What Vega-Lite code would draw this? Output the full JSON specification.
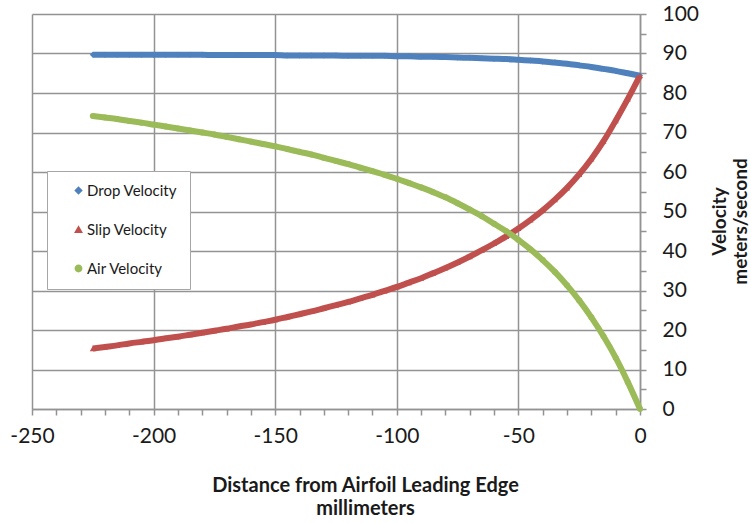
{
  "$schema": "https://vega.github.io/schema/vega-lite/v6.json",
  "width": 608,
  "height": 395,
  "autosize": "none",
  "padding": {"left": 32, "top": 14, "right": 111, "bottom": 114},
  "background": "white",
  "config": {"font": "Lato", "view": {"stroke": null}},
  "data": {
    "values": [
      {"d": -225, "drop": 89.7, "slip": 15.3, "air": 74.2},
      {"d": -220, "drop": 89.7, "slip": 15.7, "air": 73.8},
      {"d": -215, "drop": 89.7, "slip": 16.1, "air": 73.4},
      {"d": -210, "drop": 89.7, "slip": 16.6, "air": 72.9},
      {"d": -205, "drop": 89.7, "slip": 17.0, "air": 72.5},
      {"d": -200, "drop": 89.7, "slip": 17.4, "air": 72.0},
      {"d": -195, "drop": 89.7, "slip": 17.9, "air": 71.5},
      {"d": -190, "drop": 89.7, "slip": 18.3, "air": 71.0},
      {"d": -185, "drop": 89.7, "slip": 18.8, "air": 70.5},
      {"d": -180, "drop": 89.7, "slip": 19.3, "air": 70.0},
      {"d": -175, "drop": 89.6, "slip": 19.8, "air": 69.5},
      {"d": -170, "drop": 89.6, "slip": 20.3, "air": 68.9},
      {"d": -165, "drop": 89.6, "slip": 20.9, "air": 68.3},
      {"d": -160, "drop": 89.6, "slip": 21.4, "air": 67.7},
      {"d": -155, "drop": 89.6, "slip": 22.0, "air": 67.1},
      {"d": -150, "drop": 89.6, "slip": 22.6, "air": 66.5},
      {"d": -145, "drop": 89.5, "slip": 23.3, "air": 65.8},
      {"d": -140, "drop": 89.5, "slip": 24.0, "air": 65.1},
      {"d": -135, "drop": 89.5, "slip": 24.7, "air": 64.4},
      {"d": -130, "drop": 89.5, "slip": 25.5, "air": 63.6},
      {"d": -125, "drop": 89.5, "slip": 26.3, "air": 62.8},
      {"d": -120, "drop": 89.4, "slip": 27.1, "air": 62.0},
      {"d": -115, "drop": 89.4, "slip": 28.0, "air": 61.1},
      {"d": -110, "drop": 89.4, "slip": 28.9, "air": 60.2},
      {"d": -105, "drop": 89.4, "slip": 29.9, "air": 59.3},
      {"d": -100, "drop": 89.3, "slip": 30.9, "air": 58.3},
      {"d": -95, "drop": 89.3, "slip": 32.0, "air": 57.2},
      {"d": -90, "drop": 89.2, "slip": 33.1, "air": 56.1},
      {"d": -85, "drop": 89.2, "slip": 34.4, "air": 54.9},
      {"d": -80, "drop": 89.1, "slip": 35.7, "air": 53.6},
      {"d": -75, "drop": 89.0, "slip": 37.1, "air": 52.1},
      {"d": -70, "drop": 88.9, "slip": 38.6, "air": 50.5},
      {"d": -65, "drop": 88.8, "slip": 40.2, "air": 48.8},
      {"d": -60, "drop": 88.7, "slip": 41.9, "air": 46.9},
      {"d": -55, "drop": 88.6, "slip": 43.7, "air": 45.0},
      {"d": -50, "drop": 88.4, "slip": 45.7, "air": 42.8},
      {"d": -45, "drop": 88.2, "slip": 47.9, "air": 40.4},
      {"d": -40, "drop": 88.0, "slip": 50.3, "air": 37.7},
      {"d": -35, "drop": 87.7, "slip": 53.0, "air": 34.7},
      {"d": -30, "drop": 87.4, "slip": 56.0, "air": 31.3},
      {"d": -25, "drop": 87.0, "slip": 59.4, "air": 27.5},
      {"d": -20, "drop": 86.6, "slip": 63.3, "air": 23.2},
      {"d": -15, "drop": 86.1, "slip": 67.8, "air": 18.4},
      {"d": -10, "drop": 85.6, "slip": 73.0, "air": 13.0},
      {"d": -5, "drop": 85.0, "slip": 78.5, "air": 6.8},
      {"d": 0, "drop": 84.4, "slip": 84.4, "air": 0}
    ]
  },
  "transform": [{"fold": ["drop", "slip", "air"], "as": ["s", "v"]}],
  "encoding": {
    "x": {
      "field": "d",
      "type": "quantitative",
      "scale": {"domain": [-250, 0], "nice": false, "zero": false},
      "axis": {
        "values": [-250, -240, -230, -220, -210, -200, -190, -180, -170, -160, -150, -140, -130, -120, -110, -100, -90, -80, -70, -60, -50, -40, -30, -20, -10, 0],
        "labelExpr": "datum.value % 50 === 0 ? '' + datum.value : ''",
        "labelFontSize": 21,
        "labelColor": "#1a1a1a",
        "labelPadding": 10,
        "labelFlush": false,
        "labelOverlap": false,
        "tickSize": 6,
        "tickColor": "#939393",
        "tickWidth": 1.5,
        "domainColor": "#939393",
        "domainWidth": 1.5,
        "grid": true,
        "gridColor": "#939393",
        "gridWidth": 1.5,
        "gridOpacity": {"condition": {"test": "datum.value % 50 === 0", "value": 1}, "value": 0},
        "title": ["Distance from Airfoil Leading Edge", "millimeters"],
        "titleFontSize": 20,
        "titleFontWeight": "bold",
        "titleColor": "#1a1a1a",
        "titleLineHeight": 23,
        "titleX": 333,
        "titleY": 66,
        "titleAlign": "center",
        "titleBaseline": "top"
      }
    },
    "y": {
      "field": "v",
      "type": "quantitative",
      "scale": {"domain": [0, 100], "nice": false},
      "axis": {
        "orient": "right",
        "values": [0, 5, 10, 15, 20, 25, 30, 35, 40, 45, 50, 55, 60, 65, 70, 75, 80, 85, 90, 95, 100],
        "labelExpr": "datum.value % 10 === 0 ? '' + datum.value : ''",
        "labelFontSize": 21,
        "labelColor": "#1a1a1a",
        "labelPadding": 16,
        "labelOverlap": false,
        "labelFlush": false,
        "tickSize": 6,
        "tickColor": "#939393",
        "tickWidth": 1.5,
        "domainColor": "#939393",
        "domainWidth": 1.5,
        "grid": true,
        "gridColor": "#939393",
        "gridWidth": 1.5,
        "gridOpacity": {"condition": {"test": "datum.value % 10 === 0", "value": 1}, "value": 0},
        "title": ["Velocity", "meters/second"],
        "titleFontSize": 19,
        "titleFontWeight": "bold",
        "titleColor": "#1a1a1a",
        "titleLineHeight": 21,
        "titleAngle": 270,
        "titleX": 70,
        "titleY": 207,
        "titleAlign": "center",
        "titleBaseline": "top"
      }
    }
  },
  "layer": [
    {
      "mark": {"type": "line", "strokeWidth": 6, "interpolate": "monotone"},
      "encoding": {
        "color": {
          "field": "s",
          "type": "nominal",
          "scale": {"domain": ["drop", "slip", "air"], "range": ["#4F81BD", "#C0504D", "#9BBB59"]}
        }
      }
    },
    {
      "mark": {"type": "point", "filled": true, "size": 36, "opacity": 1},
      "encoding": {
        "color": {
          "field": "s",
          "type": "nominal",
          "scale": {"domain": ["drop", "slip", "air"], "range": ["#4F81BD", "#C0504D", "#9BBB59"]},
          "legend": {
            "title": null,
            "orient": "none",
            "legendX": 15,
            "legendY": 157,
            "padding": 12,
            "strokeColor": "#a6a6a6",
            "fillColor": "white",
            "labelFontSize": 15,
            "labelColor": "#1a1a1a",
            "symbolSize": 40,
            "symbolType": "circle",
            "rowPadding": 23,
            "symbolOffset": 12,
            "labelOffset": 1,
            "labelExpr": "{'drop': 'Drop Velocity', 'slip': 'Slip Velocity', 'air': 'Air Velocity'}[datum.label]"
          }
        },
        "shape": {
          "field": "s",
          "type": "nominal",
          "scale": {"domain": ["drop", "slip", "air"], "range": ["diamond", "triangle-up", "circle"]},
          "legend": {
            "title": null,
            "orient": "none",
            "legendX": 15,
            "legendY": 157,
            "padding": 12,
            "strokeColor": "#a6a6a6",
            "fillColor": "white",
            "labelFontSize": 15,
            "labelColor": "#1a1a1a",
            "symbolSize": 40,
            "rowPadding": 23,
            "symbolOffset": 12,
            "labelOffset": 1,
            "labelExpr": "{'drop': 'Drop Velocity', 'slip': 'Slip Velocity', 'air': 'Air Velocity'}[datum.label]"
          }
        }
      }
    }
  ]
}
